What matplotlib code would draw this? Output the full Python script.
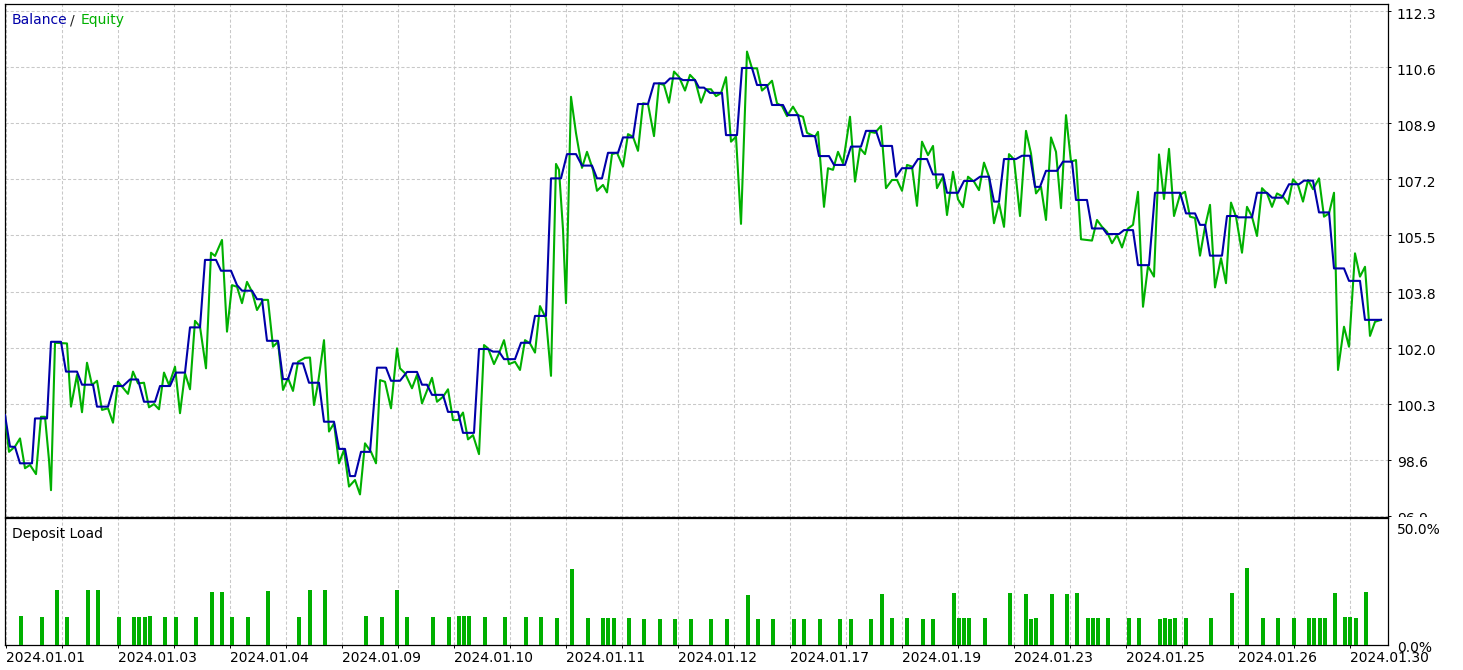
import numpy as np
import matplotlib
matplotlib.use('Agg')
import matplotlib.pyplot as plt
import matplotlib.transforms as mtransforms

# balance curve vertices (x = deal position, y = account value)
bal_x = [-1, 4, 9, 14, 26, 29, 41, 45, 55, 60, 71, 76, 87, 91, 102, 108, 117, 124, 132, 138,
         149, 154, 164, 170, 179, 184, 194, 199, 210, 215, 225, 231, 236, 246, 251, 256, 261, 272, 277, 282,
         287, 297, 303, 313, 318, 328, 333, 339, 344, 349, 355, 364, 371, 380, 385, 394, 401, 411, 416, 421,
         426, 437, 442, 452, 457, 468, 473, 482, 487, 493, 498, 509, 515, 524, 529, 540, 545, 555, 561, 570,
         576, 586, 591, 596, 602, 612, 617, 627, 632, 642, 648, 659, 664, 674, 677, 689, 693, 698, 704, 716,
         720, 731, 736, 746, 751, 761, 766, 777, 782, 792, 797, 809, 813, 823, 828, 839, 845, 855, 860, 870,
         875, 886, 890, 896, 906, 912, 921, 927, 937, 941, 952, 958, 968, 974, 983, 988, 993, 998, 1010, 1016,
         1024, 1029, 1034, 1040, 1051, 1057, 1066, 1070, 1081, 1086, 1097, 1101, 1113, 1118, 1127, 1132, 1143, 1149, 1174, 1180,
         1189, 1194, 1199, 1204, 1216, 1221, 1231, 1232, 1246, 1251, 1261, 1266, 1276, 1283, 1293, 1298, 1307, 1313, 1323, 1328,
         1338, 1343, 1354, 1359, 1375]
bal_y = [99.97, 99.01, 99.00, 98.50, 98.50, 99.87, 99.87, 102.21, 102.21, 101.30,
         101.30, 100.90, 100.90, 100.23, 100.23, 100.86, 100.86, 101.06, 101.06, 100.38,
         100.38, 100.86, 100.86, 101.27, 101.27, 102.65, 102.65, 104.71, 104.71, 104.38,
         104.38, 103.94, 103.77, 103.77, 103.51, 103.51, 102.24, 102.24, 101.07, 101.07,
         101.55, 101.55, 100.96, 100.96, 99.77, 99.77, 98.94, 98.94, 98.11, 98.11,
         98.85, 98.85, 101.42, 101.42, 101.02, 101.02, 101.29, 101.29, 100.90, 100.90,
         100.59, 100.59, 100.07, 100.07, 99.43, 99.43, 101.99, 101.99, 101.91, 101.91,
         101.68, 101.68, 102.18, 102.18, 103.00, 103.00, 107.20, 107.20, 107.94, 107.94,
         107.59, 107.59, 107.20, 107.20, 107.98, 107.98, 108.45, 108.45, 109.47, 109.47,
         110.10, 110.10, 110.25, 110.25, 110.20, 110.20, 109.97, 109.97, 109.81, 109.81,
         108.52, 108.52, 110.57, 110.57, 110.05, 110.05, 109.44, 109.44, 109.13, 109.13,
         108.49, 108.49, 107.88, 107.88, 107.61, 107.61, 108.17, 108.17, 108.65, 108.65,
         108.19, 108.19, 107.25, 107.51, 107.51, 107.79, 107.79, 107.32, 107.32, 106.76,
         106.76, 107.12, 107.12, 107.25, 107.25, 106.49, 106.49, 107.79, 107.79, 107.89,
         107.89, 106.94, 106.94, 107.43, 107.43, 107.71, 107.71, 106.54, 106.54, 105.67,
         105.67, 105.50, 105.50, 105.62, 105.62, 104.55, 104.55, 106.76, 106.76, 106.13,
         106.13, 105.78, 105.78, 104.84, 104.84, 106.05, 106.05, 106.01, 106.01, 106.76,
         106.76, 106.61, 106.61, 107.02, 107.02, 107.13, 107.13, 106.16, 106.16, 104.45,
         104.45, 104.07, 104.07, 102.88, 102.88]

# equity curve vertices
eq_x = [-1, 3, 9, 14, 19, 24, 30, 35, 39, 43, 45, 49, 61, 65, 71, 76, 81, 86, 91, 96,
        102, 107, 112, 122, 127, 132, 138, 143, 148, 153, 158, 163, 169, 174, 179, 184, 189, 194, 200, 205,
        209, 216, 221, 226, 231, 236, 241, 246, 251, 257, 262, 267, 272, 277, 282, 287, 292, 299, 304, 308,
        312, 318, 323, 328, 333, 338, 343, 349, 354, 359, 365, 370, 374, 379, 385, 391, 394, 399, 406, 411,
        416, 426, 431, 437, 442, 447, 452, 457, 462, 467, 473, 478, 482, 488, 493, 498, 503, 509, 514, 519,
        524, 529, 534, 540, 545, 548, 550, 553, 557, 560, 565, 570, 576, 581, 587, 591, 597, 601, 606, 611,
        617, 622, 627, 632, 637, 642, 648, 653, 658, 663, 668, 673, 679, 684, 689, 695, 700, 705, 710, 715,
        720, 725, 730, 735, 741, 746, 751, 756, 761, 766, 771, 776, 781, 787, 792, 797, 801, 809, 812, 818,
        822, 827, 832, 837, 844, 849, 854, 859, 864, 869, 875, 880, 886, 891, 896, 901, 906, 911, 916, 922,
        927, 931, 937, 941, 947, 952, 957, 962, 968, 973, 978, 983, 988, 993, 998, 1003, 1008, 1014, 1020, 1025,
        1030, 1035, 1040, 1045, 1050, 1055, 1060, 1065, 1070, 1075, 1086, 1091, 1096, 1101, 1106, 1111, 1116, 1122, 1127, 1132,
        1137, 1142, 1148, 1153, 1158, 1163, 1168, 1174, 1179, 1184, 1189, 1194, 1199, 1204, 1209, 1215, 1220, 1225, 1230, 1236,
        1241, 1246, 1251, 1256, 1261, 1266, 1271, 1277, 1282, 1287, 1292, 1297, 1302, 1307, 1313, 1318, 1323, 1328, 1332, 1338,
        1343, 1349, 1354, 1359, 1364, 1369, 1375]
eq_y = [99.92, 98.85, 99.01, 99.26, 98.35, 98.45, 98.17, 99.92, 99.92, 98.60,
        97.68, 102.18, 102.16, 100.23, 101.20, 100.06, 101.57, 100.89, 101.02, 100.13,
        100.18, 99.74, 100.99, 100.62, 101.30, 100.94, 100.96, 100.21, 100.31, 100.15,
        101.27, 100.89, 101.45, 100.03, 101.25, 100.76, 102.85, 102.67, 101.40, 104.93,
        104.83, 105.32, 102.52, 103.94, 103.89, 103.39, 104.04, 103.74, 103.18, 103.49,
        103.49, 102.06, 102.21, 100.74, 101.10, 100.71, 101.60, 101.72, 101.73, 100.28,
        100.94, 102.26, 99.47, 99.72, 98.50, 98.91, 97.79, 97.99, 97.55, 99.11,
        98.85, 98.50, 101.04, 100.99, 100.18, 102.01, 101.40, 101.25, 100.79, 101.20,
        100.33, 101.11, 100.38, 100.53, 100.76, 99.82, 99.82, 100.05, 99.23, 99.36,
        98.78, 102.11, 102.01, 101.53, 101.86, 102.26, 101.53, 101.60, 101.35, 102.26,
        102.16, 101.88, 103.30, 102.93, 101.17, 105.07, 107.64, 107.46, 105.64, 103.39,
        109.69, 108.58, 107.52, 108.01, 107.46, 106.82, 107.00, 106.77, 107.94, 107.98,
        107.56, 108.55, 108.47, 108.04, 109.49, 109.47, 108.49, 110.10, 110.05, 109.51,
        110.46, 110.30, 109.88, 110.36, 110.20, 109.51, 109.92, 109.92, 109.71, 109.80,
        110.29, 108.32, 108.47, 105.81, 111.07, 110.56, 110.56, 109.88, 110.02, 110.18,
        109.49, 109.41, 109.10, 109.39, 109.13, 109.08, 108.59, 108.47, 108.62, 106.33,
        107.51, 107.46, 108.01, 107.66, 109.08, 107.10, 108.12, 107.94, 108.62, 108.59,
        108.80, 106.90, 107.15, 107.15, 106.82, 107.61, 107.56, 106.36, 108.32, 107.91,
        108.19, 106.90, 107.25, 106.08, 107.40, 106.56, 106.32, 107.25, 107.10, 106.84,
        107.68, 107.25, 105.83, 106.44, 105.72, 107.94, 107.78, 106.05, 108.65, 107.96,
        106.74, 106.94, 105.93, 108.45, 108.01, 106.29, 109.13, 107.71, 107.76, 105.34,
        105.30, 105.93, 105.72, 105.57, 105.22, 105.47, 105.09, 105.67, 105.78, 106.79,
        103.28, 104.52, 104.20, 107.93, 106.57, 108.10, 106.05, 106.70, 106.79, 106.03,
        105.99, 104.84, 105.72, 106.39, 103.87, 104.76, 104.00, 106.46, 106.03, 104.93,
        106.33, 106.03, 105.44, 106.90, 106.74, 106.33, 106.74, 106.64, 106.42, 107.17,
        107.00, 106.49, 107.15, 106.87, 107.20, 106.03, 106.13, 106.76, 101.35, 102.67,
        102.06, 104.91, 104.20, 104.50, 102.39, 102.82, 102.88]

# deposit load bars (%)
load_x = [15, 36, 51, 61, 82, 92, 113, 128, 133, 139, 144, 159, 170, 190, 206, 216, 226, 242, 262, 293,
          304, 319, 360, 376, 391, 401, 427, 443, 453, 458, 463, 479, 499, 520, 535, 551, 566, 582, 597, 602,
          608, 623, 638, 654, 669, 685, 705, 721, 742, 752, 767, 788, 798, 814, 834, 845, 865, 876, 886, 901,
          917, 927, 948, 953, 958, 963, 979, 1004, 1020, 1025, 1030, 1046, 1061, 1071, 1082, 1087, 1092, 1102, 1123, 1133,
          1154, 1159, 1164, 1169, 1180, 1205, 1226, 1241, 1257, 1272, 1288, 1303, 1308, 1314, 1319, 1329, 1339, 1344, 1350, 1360]
load_pct = [12.1, 11.7, 23.2, 11.7, 23.2, 23.2, 11.7, 11.7, 11.7, 11.7, 12.1, 11.7, 11.7, 11.7, 22.5, 22.5,
            11.7, 11.7, 22.8, 11.7, 23.2, 23.2, 12.1, 11.7, 23.2, 11.7, 11.7, 11.7, 12.1, 12.1, 12.1, 11.7,
            11.7, 11.7, 11.7, 11.3, 32.1, 11.3, 11.3, 11.3, 11.3, 11.3, 10.9, 10.9, 10.9, 10.9, 10.9, 10.9,
            21.1, 10.9, 10.9, 10.9, 10.9, 10.9, 10.9, 10.9, 10.9, 21.5, 11.3, 11.3, 10.9, 10.9, 21.9, 11.3,
            11.3, 11.3, 11.3,
            21.9, 21.5, 10.9, 11.3, 21.5, 21.5, 21.9, 11.3, 11.3, 11.3, 11.3, 11.3, 11.3, 10.9, 11.3, 10.9,
            11.3, 11.3, 11.3, 21.9, 32.6, 11.3, 11.3, 11.3, 11.3, 11.3, 11.3, 11.3, 21.9, 11.7, 11.7, 11.3, 22.3]

value_labels = ['96.9', '98.6', '100.3', '102.0', '103.8', '105.5', '107.2', '108.9', '110.6', '112.3']
date_labels = ['2024.01.01', '2024.01.03', '2024.01.04', '2024.01.09', '2024.01.10', '2024.01.11',
               '2024.01.12', '2024.01.17', '2024.01.19', '2024.01.23', '2024.01.25', '2024.01.26', '2024.01.30']
load_labels = ['0.0%', '50.0%']

BAL_COL = '#0000a8'
EQ_COL = '#00b000'
GRID_COL = '#c8c8c8'

plt.rcParams['font.family'] = ['DejaVu Sans']
plt.rcParams['font.size'] = 10

W, H = 1463, 670
fig = plt.figure(figsize=(W / 100, H / 100), dpi=100)


def box(l, t, r, b):
    return [l / W, 1 - b / H, (r - l) / W, (b - t) / H]


ax = fig.add_axes(box(4.7, 4.3, 1388.3, 516.7))
ax2 = fig.add_axes(box(4.7, 518.3, 1388.3, 644.7))

# main panel
ax.plot(eq_x, eq_y, color=EQ_COL, lw=1.5, zorder=3)
ax.plot(bal_x, bal_y, color=BAL_COL, lw=1.5, zorder=4)
ax.set_xlim(-1.3, 1382.3)
ax.set_ylim(96.870, 112.514)
ax.set_yticks(np.linspace(96.9, 112.3, 10))
ax.set_yticklabels(value_labels)
ax.set_xticks(np.arange(0, 1382, 56))
ax.tick_params(axis='x', length=0, labelbottom=False)
ax.tick_params(axis='y', left=False, labelleft=False, right=True, labelright=True,
               length=2.5, width=0.7, pad=3.5, labelsize=10)
ax.grid(True, color=GRID_COL, linestyle=(0, (3, 2)), linewidth=0.75, zorder=0)
ax.set_axisbelow(True)
for s in ax.spines.values():
    s.set_linewidth(0.9)
    s.set_color('black')

# deposit load panel
ax2.bar(load_x, load_pct, width=4, color=EQ_COL, linewidth=0, zorder=3)
ax2.set_xlim(-1.3, 1382.3)
ax2.set_ylim(0, 53.7)
ax2.set_xticks(np.arange(0, 1345, 112))
ax2.set_xticklabels(date_labels, ha='left')
ax2.set_xticks(np.arange(56, 1345, 112), minor=True)
ax2.tick_params(axis='x', which='both', length=2.5, width=0.7, pad=2, labelsize=10)
ax2.set_yticks([0, 50])
ax2.set_yticklabels(load_labels)
ax2.tick_params(axis='y', left=False, labelleft=False, right=True, labelright=True,
                length=0, pad=6.0, labelsize=10)
ax2.grid(True, axis='x', which='both', color=GRID_COL, linestyle=(0, (3, 2)), linewidth=0.75, zorder=0)
ax2.set_axisbelow(True)
for s in ax2.spines.values():
    s.set_linewidth(0.9)
    s.set_color('black')

# value labels sit a little below their grid lines
offset = mtransforms.ScaledTranslation(0, -1.7 / 100, fig.dpi_scale_trans)
for a in (ax, ax2):
    for lbl in a.get_yticklabels():
        lbl.set_transform(lbl.get_transform() + offset)
        lbl.set_zorder(5)

# bottom value label is cut at the main panel's lower edge
clip = mtransforms.TransformedBbox(mtransforms.Bbox([[0.9, 1 - 516.7 / H], [1.0, 1.0]]), fig.transFigure)
lowest = ax.get_yticklabels()[0]
lowest.set_clip_box(clip)
lowest.set_clip_on(True)

# titles
ty = 1 - 24 / H
fig.text(11.7 / W, ty, 'Balance', color=BAL_COL, va='baseline', fontsize=10)
fig.text(70.5 / W, ty, '/', color='#222222', va='baseline', fontsize=10)
fig.text(80.5 / W, ty, 'Equity', color=EQ_COL, va='baseline', fontsize=10)
fig.text(11.7 / W, 1 - 538.3 / H, 'Deposit Load', color='black', va='baseline', fontsize=10)

fig.savefig('out.png', dpi=100, facecolor='white')
